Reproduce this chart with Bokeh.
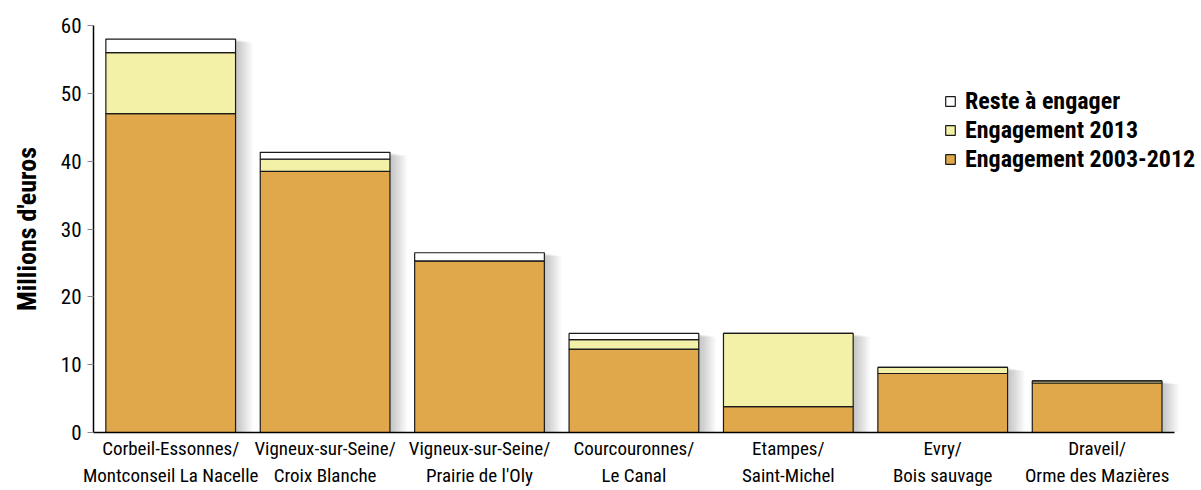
from bokeh.plotting import figure
from bokeh.models import Range1d, Legend, LegendItem, SingleIntervalTicker, FixedTicker
from bokeh.embed import file_html
from bokeh.resources import INLINE

sites = [
    "Corbeil-Essonnes/\nMontconseil La Nacelle",
    "Vigneux-sur-Seine/\nCroix Blanche",
    "Vigneux-sur-Seine/\nPrairie de l'Oly",
    "Courcouronnes/\nLe Canal",
    "Etampes/\nSaint-Michel",
    "Evry/\nBois sauvage",
    "Draveil/\nOrme des Mazières",
]
engagement_2003_2012 = [47.0, 38.5, 25.3, 12.3, 3.8, 8.7, 7.3]
engagement_2013 = [9.0, 1.8, 0.0, 1.4, 10.8, 0.9, 0.3]
reste_a_engager = [2.0, 1.0, 1.2, 0.9, 0.0, 0.0, 0.0]
series_names = ["Engagement 2003-2012", "Engagement 2013", "Reste à engager"]
colors = ["#E0A84A", "#F3F1A8", "#FFFFFF"]

FONT = "Roboto Condensed, Roboto"

n = len(sites)
pos = [i + 0.5 for i in range(n)]

p = figure(
    width=1201, height=490,
    x_range=Range1d(0, n + 0.176),
    y_range=Range1d(0, 60),
    output_backend="svg", toolbar_location=None,
    min_border_left=93, min_border_right=0, min_border_top=25, min_border_bottom=57,
)

totals = [a + b + c for a, b, c in zip(engagement_2003_2012, engagement_2013, reste_a_engager)]
data = dict(x=pos, a=engagement_2003_2012, b=engagement_2013, c=reste_a_engager, total=totals)

# soft drop shadow behind the bars
for k in range(1, 11):
    p.vbar(x=[v + 0.011 * k for v in pos], top=[t - 0.05 * k for t in totals], width=0.84,
           fill_color="black", fill_alpha=0.022, line_color=None)

renderers = p.vbar_stack(["a", "b", "c"], x="x", width=0.84, source=data,
                         fill_color=colors, line_color="#1a1a1a", line_width=1.2)

p.xgrid.grid_line_color = None
p.ygrid.grid_line_color = None
p.outline_line_color = None

p.yaxis.ticker = SingleIntervalTicker(interval=10)
p.yaxis.minor_tick_line_color = None
p.yaxis.major_tick_in = 0
p.yaxis.major_tick_out = 6
p.yaxis.major_tick_line_color = "#888888"
p.yaxis.axis_line_color = "black"
p.yaxis.axis_line_width = 1.5
p.yaxis.major_label_text_font = FONT
p.yaxis.major_label_text_font_size = "21px"
p.yaxis.major_label_text_color = "black"
p.yaxis.major_label_standoff = 6
p.yaxis.axis_label = "Millions d'euros"
p.yaxis.axis_label_text_font = FONT
p.yaxis.axis_label_text_font_size = "26px"
p.yaxis.axis_label_text_font_style = "bold"
p.yaxis.axis_label_text_color = "black"
p.yaxis.axis_label_standoff = 16

p.xaxis.ticker = FixedTicker(ticks=pos)
p.xaxis.major_label_overrides = {v: s for v, s in zip(pos, sites)}
p.xaxis.bounds = (0, n)
p.xaxis.major_tick_line_color = None
p.xaxis.major_tick_out = 0
p.xaxis.major_tick_in = 0
p.xaxis.minor_tick_line_color = None
p.xaxis.axis_line_color = "black"
p.xaxis.axis_line_width = 1.5
p.xaxis.major_label_text_font = FONT
p.xaxis.major_label_text_font_size = "19px"
p.xaxis.major_label_text_color = "black"
p.xaxis.major_label_standoff = 4

items = [LegendItem(label=series_names[i], renderers=[renderers[i]]) for i in (2, 1, 0)]
legend = Legend(items=items, location=(851, 259), orientation="vertical",
                background_fill_alpha=0, border_line_color=None,
                label_text_font=FONT, label_text_font_size="24px",
                label_text_font_style="bold", label_text_color="black",
                glyph_width=12, glyph_height=12, spacing=1, label_standoff=9,
                padding=0, margin=0)
p.add_layout(legend, "center")

open("out.html", "w").write(file_html(p, INLINE))
